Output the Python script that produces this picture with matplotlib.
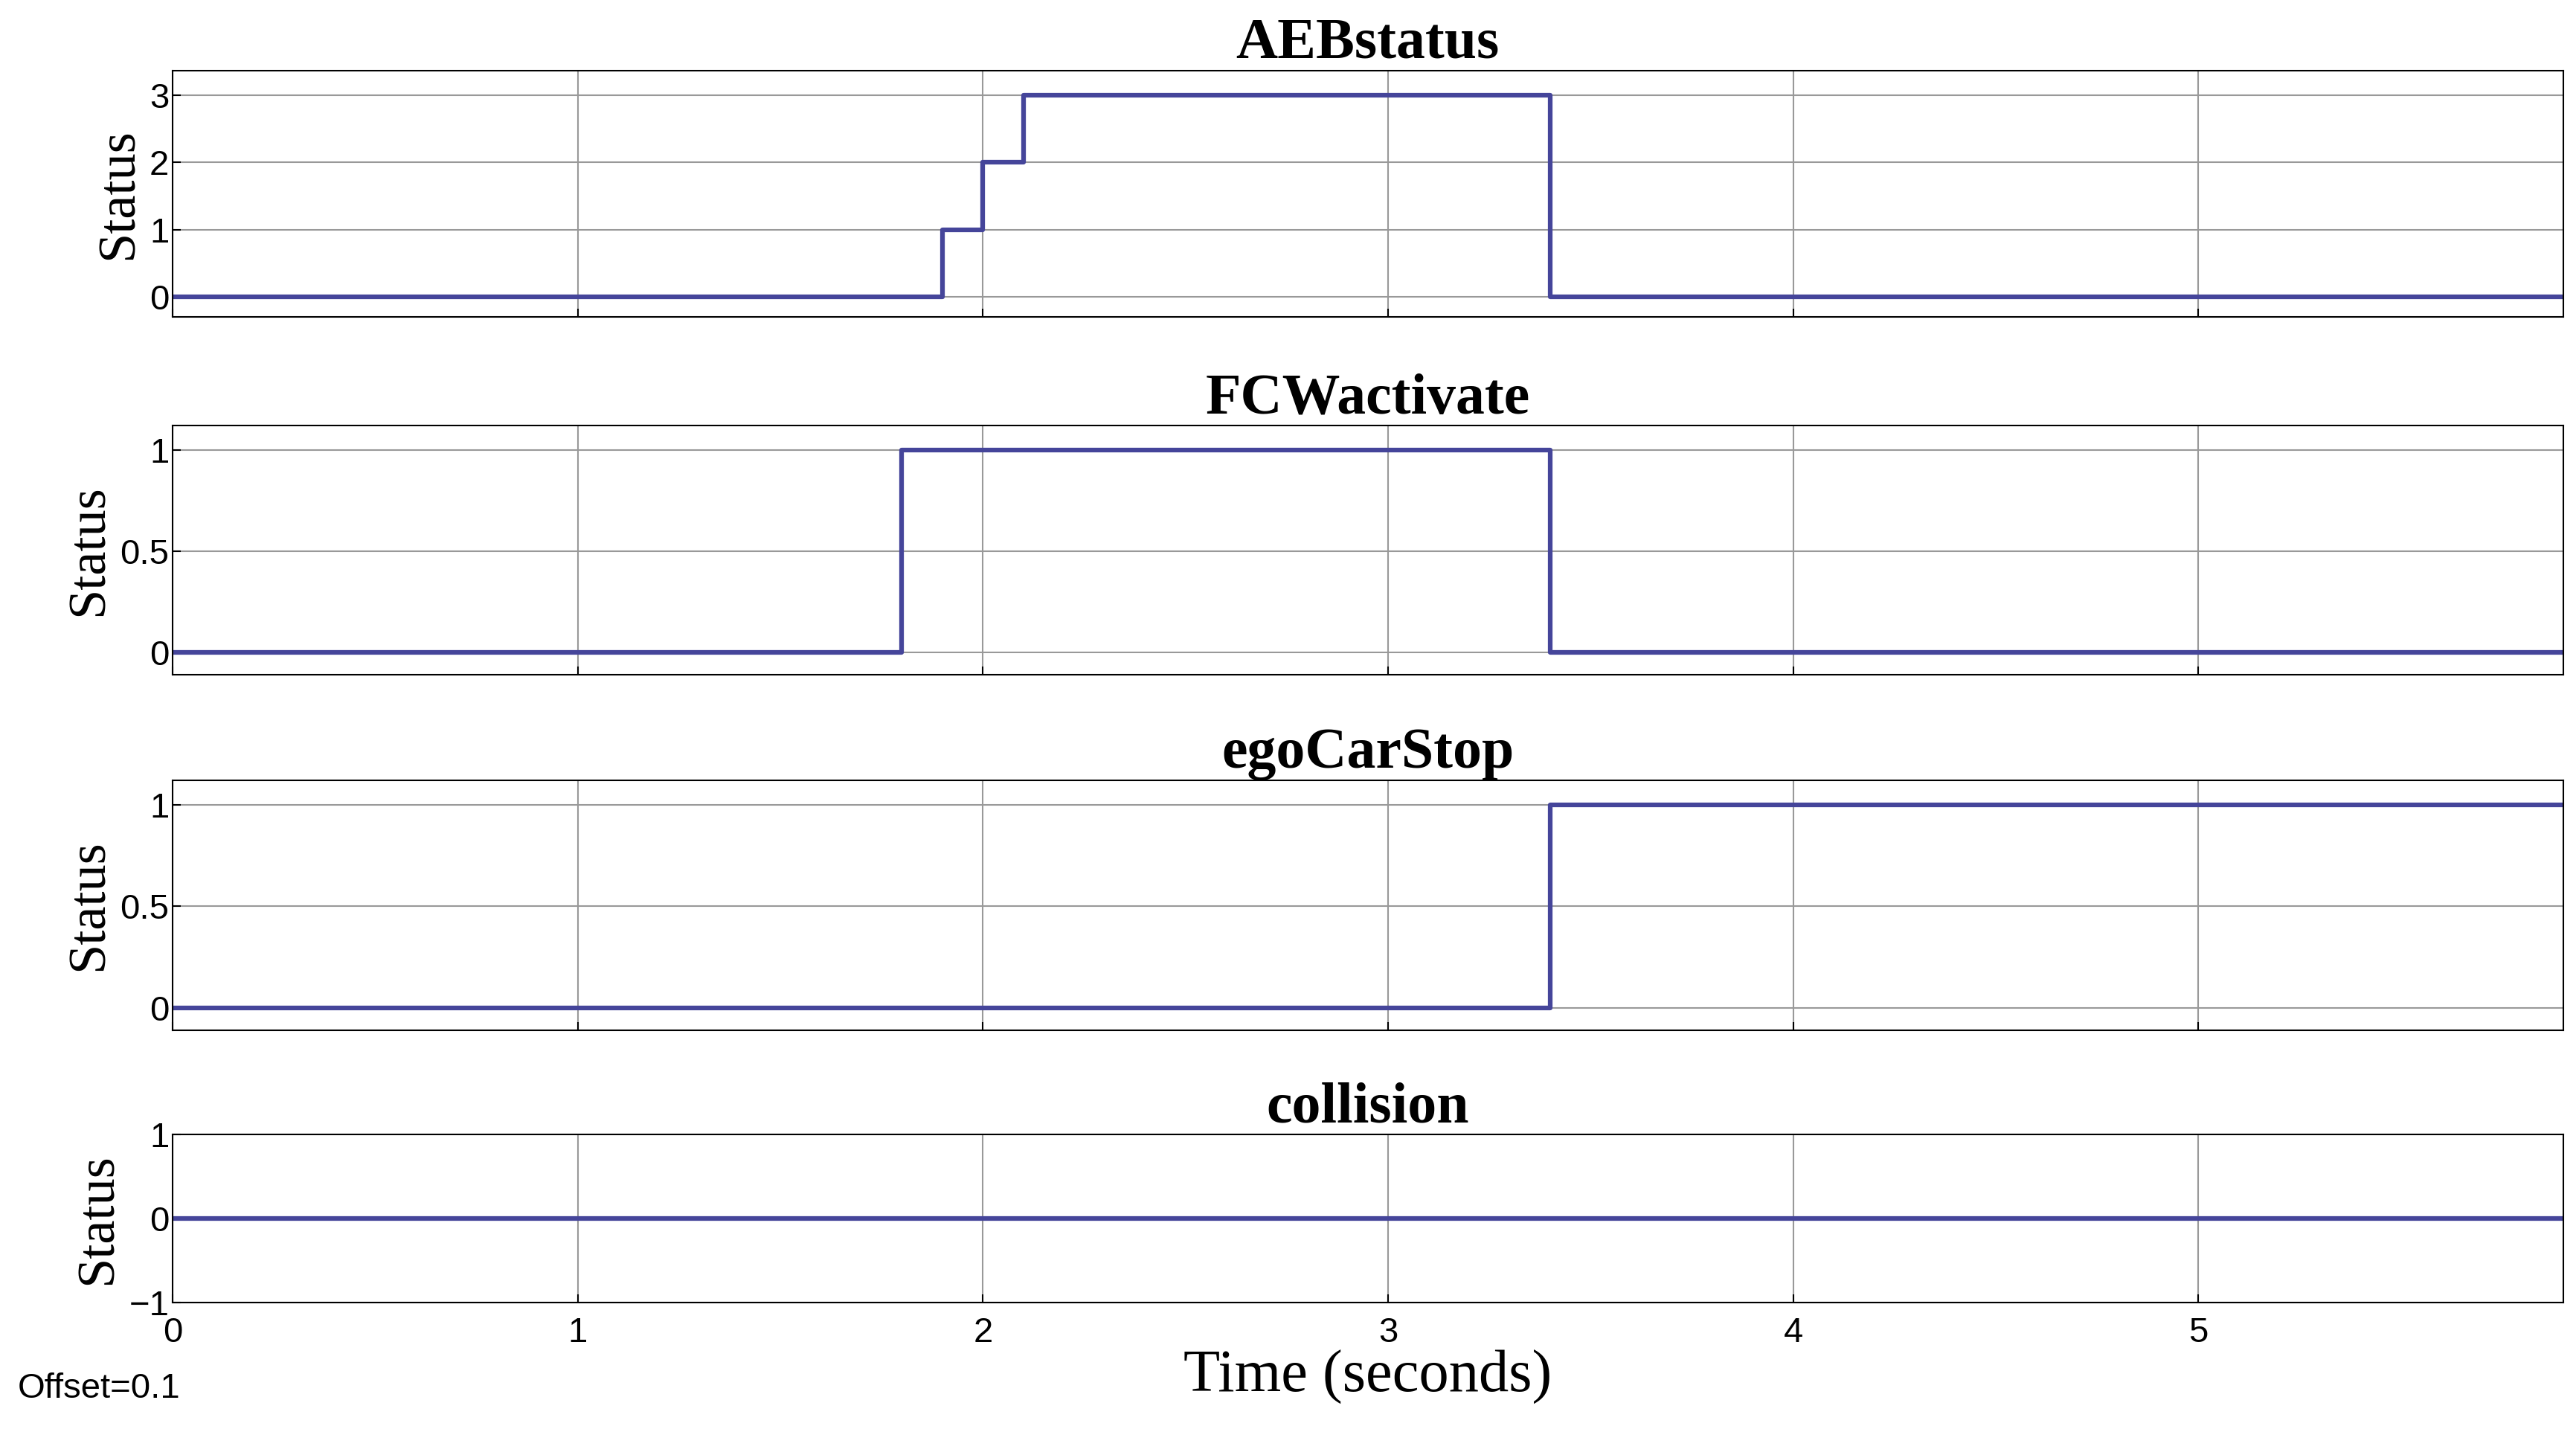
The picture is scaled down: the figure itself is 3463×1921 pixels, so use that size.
import matplotlib
matplotlib.use("Agg")
import matplotlib.pyplot as plt

titles = ["AEBstatus", "FCWactivate", "egoCarStop", "collision"]
times = [[0, 1.9, 2.0, 2.1, 3.4, 5.9],
         [0, 1.8, 3.4, 5.9],
         [0, 3.4, 5.9],
         [0, 5.9]]
values = [[0, 1, 2, 3, 0, 0],
          [0, 1, 0, 0],
          [0, 1, 1],
          [0, 0]]
yticks = [[0, 1, 2, 3], [0, 0.5, 1], [0, 0.5, 1], [-1, 0, 1]]
ylims = [(-0.3, 3.36), (-0.11, 1.12), (-0.11, 1.12), (-1, 1)]
xticks = [0, 1, 2, 3, 4, 5]

boxes = [(0.778, 0.9506), (0.528, 0.702), (0.279, 0.454), (0.0885, 0.206)]
fig = plt.figure(figsize=(34.63, 19.21), dpi=100)
serif = ["Liberation Serif", "DejaVu Serif"]
sans = ["Liberation Sans", "DejaVu Sans"]
color = "#45459a"
for i in range(4):
    b, t = boxes[i]
    ax = fig.add_axes([0.067, b, 0.928, t - b])
    ax.step(times[i], values[i], where="post", color=color, lw=4.5)
    ax.set_xlim(0, 5.9)
    ax.set_ylim(*ylims[i])
    ax.set_yticks(yticks[i])
    ax.set_yticklabels([f"{v:g}".replace("-", "\u2212") for v in yticks[i]], fontfamily=sans)
    ax.set_xticks(xticks)
    ax.grid(True, color="#999999", lw=1.5)
    ax.set_title(titles[i], fontfamily=serif, fontweight="bold", fontsize=56, pad=6)
    ax.set_ylabel("Status", fontfamily=serif, fontsize=52, labelpad=6)
    ax.tick_params(labelsize=34, length=8, width=1.5, direction="in")
    ax.tick_params(axis="x", pad=14)
    for s in ax.spines.values():
        s.set_linewidth(1.5)
    if i < 3:
        ax.set_xticklabels([])
    else:
        ax.set_xticklabels([str(v) for v in xticks], fontfamily=sans)
        ax.set_xlabel("Time (seconds)", fontfamily=serif, fontsize=58, labelpad=0)
fig.text(0.007, 0.022, "Offset=0.1", fontsize=34, fontfamily=sans)
fig.savefig("out.png", dpi=100)
